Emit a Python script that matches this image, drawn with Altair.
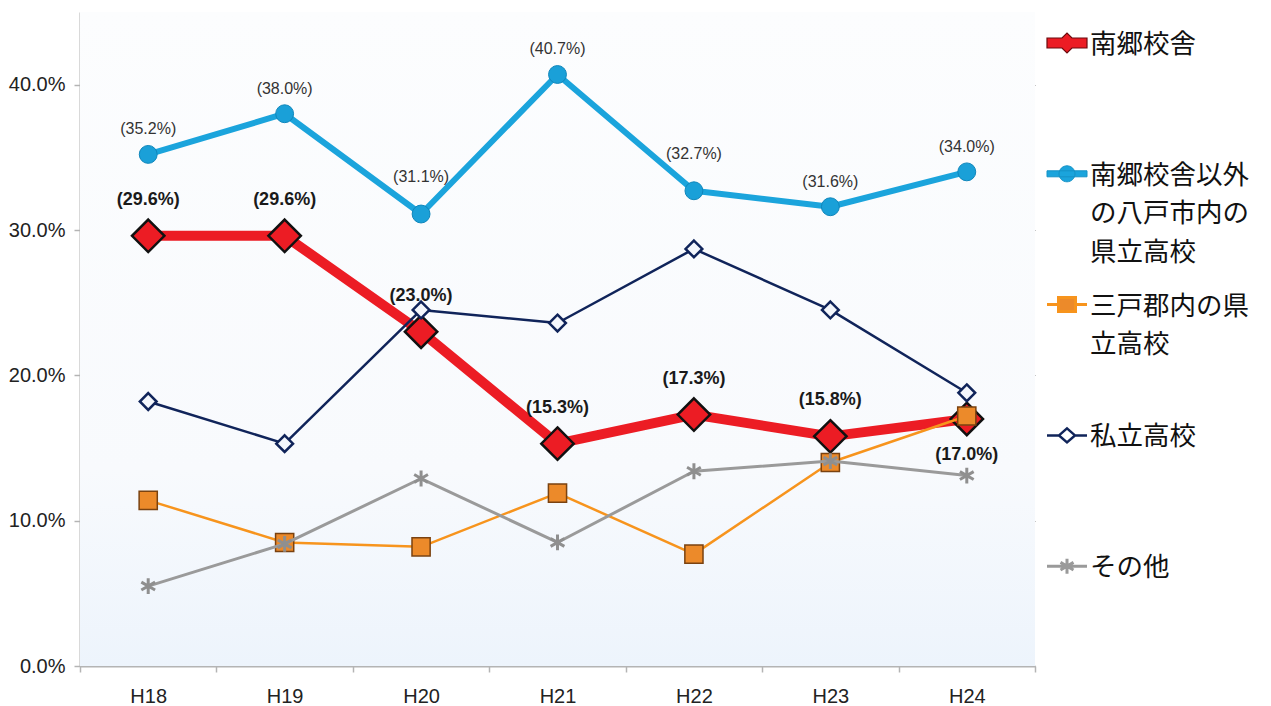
import altair as alt
import pandas as pd

# ---- data ----
years = ["H18", "H19", "H20", "H21", "H22", "H23", "H24"]
series_names = ["南郷校舎", "南郷校舎以外の八戸市内の県立高校", "三戸郡内の県立高校", "私立高校", "その他"]
nango = [29.6, 29.6, 23.0, 15.3, 17.3, 15.8, 17.0]
hachinohe_other = [35.2, 38.0, 31.1, 40.7, 32.7, 31.6, 34.0]
sannohe = [11.4, 8.5, 8.2, 11.9, 7.7, 14.0, 17.2]
shiritsu = [18.2, 15.3, 24.5, 23.6, 28.7, 24.5, 18.8]
sonota = [5.5, 8.4, 12.9, 8.5, 13.4, 14.1, 13.1]
legend_text = ["南郷校舎", "南郷校舎以外\nの八戸市内の\n県立高校", "三戸郡内の県\n立高校", "私立高校", "その他"]
y_ticks = [0, 10, 20, 30, 40]
y_max = 45

values = [nango, hachinohe_other, sannohe, shiritsu, sonota]
rows = []
for name, vals in zip(series_names, values):
    for yr, v in zip(years, vals):
        rows.append({"year": yr, "series": name, "value": v})
df = pd.DataFrame(rows)
legend_df = pd.DataFrame({"series": series_names, "text": legend_text})

W, H = 955, 654
FONT = "Liberation Sans"
JP = "Noto Sans CJK JP"

yscale = alt.Scale(domain=[0, y_max], nice=False, zero=True)
yaxis = alt.Axis(title=None, values=y_ticks,
                 labelExpr="format(datum.value, '.1f') + '%'",
                 labelFontSize=20, labelFont=FONT, labelColor="#222222", labelPadding=9,
                 tickSize=6, tickColor="#b4b4b4", tickWidth=1.5,
                 domainColor="#b4b4b4", domainWidth=2,
                 grid=True, gridColor="#8a8a8a", gridWidth=1)
xenc = alt.X("year:N", sort=years,
             scale=alt.Scale(type="band", paddingInner=0, paddingOuter=0),
             axis=alt.Axis(title=None, labelAngle=0, tickBand="extent", tickSize=6,
                           tickColor="#b4b4b4", tickWidth=1.5, domainColor="#b4b4b4", domainWidth=2,
                           labelFontSize=20, labelFont=FONT, labelColor="#222222",
                           labelPadding=14, grid=False))
yenc = alt.Y("value:Q", scale=yscale, axis=yaxis)

base = alt.Chart(df).encode(x=xenc, y=yenc)

# background gradient of the plot area
bg = alt.Chart(pd.DataFrame({"lo": [0], "hi": [y_max]})).mark_rect(
    fill=alt.Gradient(gradient="linear", x1=0, x2=0, y1=0, y2=1,
                      stops=[alt.GradientStop(color="#fcfdfe", offset=0),
                             alt.GradientStop(color="#f8fafd", offset=0.7),
                             alt.GradientStop(color="#edf4fc", offset=1)])
).encode(y=alt.Y("hi:Q", scale=yscale, axis=yaxis), y2="lo:Q")

DIAMOND = "M0,-1L1,0L0,1L-1,0Z"
ASTER = "M0,-1V1M-0.87,-0.5L0.87,0.5M-0.87,0.5L0.87,-0.5"

styles = {
    "南郷校舎": dict(color="#ec1c24", width=10,
                   point=dict(shape=DIAMOND, size=1050, fill="#ec1c24", stroke="#111111", strokeWidth=2.5)),
    "南郷校舎以外の八戸市内の県立高校": dict(color="#1ba4dc", width=6,
                   point=dict(shape="circle", size=320, fill="#1aa0d8", stroke="#0f86bb", strokeWidth=1)),
    "三戸郡内の県立高校": dict(color="#f7941d", width=2.5,
                   point=dict(shape="square", size=330, fill="#ec8a2a", stroke="#7a4210", strokeWidth=1.5)),
    "私立高校": dict(color="#10245a", width=2.5,
                   point=dict(shape=DIAMOND, size=280, fill="#f4f7fc", stroke="#10245a", strokeWidth=2.5)),
    "その他": dict(color="#9a9a9a", width=3,
                   point=dict(shape=ASTER, size=250, fill="transparent", stroke="#8f8f8f", strokeWidth=3)),
}
order = ["南郷校舎", "南郷校舎以外の八戸市内の県立高校", "三戸郡内の県立高校", "私立高校", "その他"]

layers = [bg]
for name in order:
    st = styles[name]
    flt = alt.datum.series == name
    layers.append(base.transform_filter(flt).mark_line(color=st["color"], strokeWidth=st["width"], strokeJoin="round"))
    layers.append(base.transform_filter(flt).mark_point(filled=True, opacity=1, fillOpacity=1, **st["point"]))

label_expr = "'(' + format(datum.value, '.1f') + '%)'"
# blue labels
blue = base.transform_filter(alt.datum.series == series_names[1]).transform_calculate(lbl=label_expr)
layers.append(blue.transform_filter("datum.year != 'H20' && datum.year != 'H22'").mark_text(
    dy=-25, fontSize=16, font=FONT, color="#333333").encode(text="lbl:N"))
layers.append(blue.transform_filter("datum.year == 'H20' || datum.year == 'H22'").mark_text(
    dy=-37, fontSize=16, font=FONT, color="#333333").encode(text="lbl:N"))
# red labels
red = base.transform_filter(alt.datum.series == series_names[0]).transform_calculate(lbl=label_expr)
layers.append(red.transform_filter("datum.year != 'H24'").mark_text(
    dy=-36, fontSize=18, font=FONT, fontWeight="bold", color="#1a1a1a").encode(text="lbl:N"))
layers.append(red.transform_filter("datum.year == 'H24'").mark_text(
    dy=36, fontSize=18, font=FONT, fontWeight="bold", color="#1a1a1a").encode(text="lbl:N"))

main = alt.layer(*layers).properties(width=W, height=H)

# ---- legend panel ----
LEG = {
    "南郷校舎": dict(shape="M-2,-0.5H-0.5L0,-1L0.5,-0.5H2V0.5H0.5L0,1L-0.5,0.5H-2Z",
                 fill="#ec1c24", stroke="#6b0b0e", strokeWidth=1.2),
    "南郷校舎以外の八戸市内の県立高校": dict(shape="M-2,-0.3H2V0.3H-2ZM-0.8,0A0.8,0.8 0 1,1 0.8,0A0.8,0.8 0 1,1 -0.8,0Z",
                 fill="#1ba4dc", stroke="#1592c6", strokeWidth=1),
    "三戸郡内の県立高校": dict(shape="M-2,0H-0.85M0.85,0H2M-0.85,-0.7H0.85V0.7H-0.85Z",
                 fill="#ec8a2a", stroke="#f7941d", strokeWidth=3),
    "私立高校": dict(shape="M-2,0H-0.8M0.8,0H2M0,-0.7L0.8,0L0,0.7L-0.8,0Z",
                 fill="#ffffff", stroke="#10245a", strokeWidth=2.5),
    "その他": dict(shape="M-2,0H2M0,-0.75V0.75M-0.65,-0.38L0.65,0.38M-0.65,0.38L0.65,-0.38",
                 fill="transparent", stroke="#9a9a9a", strokeWidth=3),
}
ly = alt.Y("series:N", sort=series_names,
           scale=alt.Scale(type="point", padding=0.5, align=0.237), axis=None)
lbase = alt.Chart(legend_df).encode(y=ly)
llayers = []
for name in order:
    llayers.append(lbase.transform_filter(alt.datum.series == name).mark_point(
        filled=True, opacity=1, size=400, **LEG[name]))
llayers.append(lbase.mark_text(align="left", baseline="top", dx=23, dy=-11, fontSize=26.5,
                               font=JP, lineBreak="\n", lineHeight=38.5, color="#111111").encode(text="text:N"))
legend = alt.layer(*llayers).properties(width=40, height=H)

chart = alt.hconcat(main, legend, spacing=5).properties(
    padding={"left": 0, "top": 4, "right": 0, "bottom": 0}
).configure(background="#ffffff", view=alt.ViewConfig(strokeWidth=0))

chart.save("out.html", embed_options={"renderer": "svg", "actions": False})
